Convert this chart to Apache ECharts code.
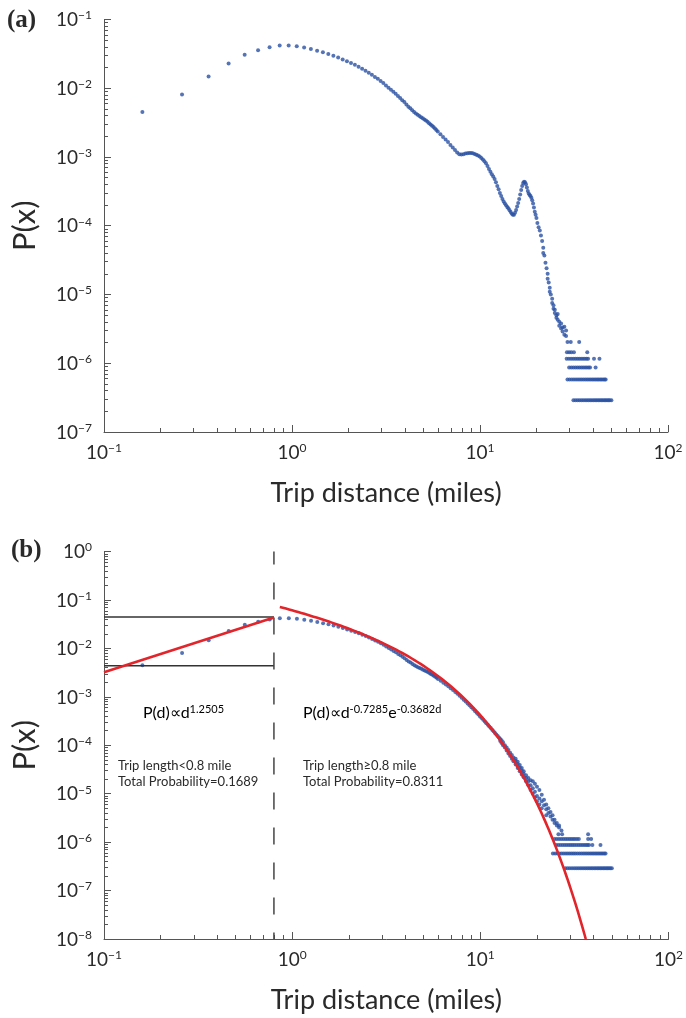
<!DOCTYPE html>
<html>
<head>
<meta charset="utf-8">
<script src="https://cdn.jsdelivr.net/npm/echarts@6/dist/echarts.min.js"></script>
<style>
  html, body { margin: 0; padding: 0; background: #ffffff; }
  #chart { width: 686px; height: 1018px; }
</style>
</head>
<body>
<div id="chart"></div>
<script>
// ---- Trip-distance distribution (0.1-mile bins) ----
// short trips, shared by both panels
const headDist = [0.16,0.26,0.36,0.46,0.56,0.66,0.76,0.86,0.96,1.06,1.16,1.26,1.36,1.46,1.56,1.66,1.76,1.86,1.96,2.06,2.16,2.26,2.36,2.46,2.56,2.66,2.76,2.86,2.96];
const headProb = [4.5e-3,8.1e-3,1.48e-2,2.29e-2,3.07e-2,3.58e-2,3.96e-2,4.19e-2,4.2e-2,4.09e-2,3.92e-2,3.72e-2,3.52e-2,3.33e-2,3.15e-2,2.98e-2,2.8e-2,2.63e-2,2.47e-2,2.33e-2,2.19e-2,2.05e-2,1.92e-2,1.8e-2,1.68e-2,1.57e-2,1.46e-2,1.37e-2,1.28e-2];
const midDist = [3.06,3.16,3.26,3.36,3.46,3.56,3.66,3.76,3.86,3.96,4.06,4.16,4.26,4.36,4.46,4.56,4.66,4.76,4.86,4.96,5.06,5.16,5.26,5.36,5.46,5.56,5.66,5.76,5.86,5.96,6.16,6.36,6.56,6.76,6.96,7.16,7.36,7.56];
const midProb = [1.19e-2,1.1e-2,1.02e-2,9.5e-3,8.9e-3,8.3e-3,7.7e-3,7.2e-3,6.7e-3,6.3e-3,5.8e-3,5.4e-3,5.1e-3,4.8e-3,4.5e-3,4.3e-3,4.1e-3,3.95e-3,3.8e-3,3.65e-3,3.52e-3,3.4e-3,3.25e-3,3.1e-3,2.97e-3,2.85e-3,2.72e-3,2.6e-3,2.47e-3,2.35e-3,2.15e-3,1.95e-3,1.8e-3,1.65e-3,1.5e-3,1.38e-3,1.26e-3,1.16e-3];

// panel (a): longer trips, with the shoulder near 9 miles and the peak near 17 miles
const bodyDistA = [7.76,7.96,8.16,8.36,8.56,8.76,8.96,9.16,9.36,9.56,9.76,9.96,10.16,10.36,10.56,10.76,10.96,11.16,11.36,11.56,11.76,11.96,12.16,12.36,12.56,12.76,12.96,13.16,13.36,13.56,13.76,13.96,14.16,14.36,14.56,14.76,14.96,15.16,15.36,15.56,15.76,15.96,16.16,16.36,16.56,16.76,16.96,17.16,17.36,17.56,17.76,17.96,18.16,18.36,18.56,18.76,18.96,19.16,19.36,19.56,19.76,19.96];
const bodyProbA = [1.1e-3,1.09e-3,1.1e-3,1.12e-3,1.13e-3,1.14e-3,1.14e-3,1.13e-3,1.11e-3,1.08e-3,1.05e-3,1.02e-3,9.7e-4,9.2e-4,8.7e-4,8.1e-4,7.4e-4,6.7e-4,6.1e-4,5.6e-4,5.2e-4,4.8e-4,4.3e-4,3.8e-4,3.4e-4,3.0e-4,2.7e-4,2.45e-4,2.25e-4,2.1e-4,1.98e-4,1.88e-4,1.8e-4,1.68e-4,1.58e-4,1.5e-4,1.45e-4,1.45e-4,1.55e-4,1.7e-4,1.9e-4,2.15e-4,2.45e-4,2.85e-4,3.3e-4,3.8e-4,4.2e-4,4.35e-4,4.3e-4,4.0e-4,3.6e-4,3.2e-4,2.95e-4,2.8e-4,2.7e-4,2.55e-4,2.35e-4,2.1e-4,1.85e-4,1.6e-4,1.45e-4,1.3e-4];
const spreadDistA = [20.2,20.5,20.8,21.1,21.4,21.7,21.7,22.0,22.3,22.6,22.9,22.9,23.2,23.5,23.5,23.8,24.2,24.2,24.6,24.6,25.0,25.0,25.5,25.5,25.9,25.9,26.4,26.4,27.0,27.0,27.5,27.5,28.1,28.1,28.7,28.7];
const spreadProbA = [1.1e-4,9.5e-5,8.5e-5,7.2e-5,6.0e-5,4.8e-5,4.0e-5,3.7e-5,2.9e-5,2.4e-5,2.0e-5,1.7e-5,1.5e-5,1.25e-5,1.1e-5,1.0e-5,8.7e-6,7.5e-6,7.0e-6,6.2e-6,6.0e-6,5.4e-6,5.0e-6,4.6e-6,5.2e-6,4.3e-6,4.0e-6,3.5e-6,3.8e-6,3.2e-6,3.3e-6,2.9e-6,3.4e-6,2.6e-6,3.0e-6,2.5e-6];

// probability levels of the sparse tail (1, 2, 3, 4, 5 and 7 trips per bin)
const levelProb = [2.9e-7, 5.8e-7, 8.7e-7, 1.16e-6, 1.45e-6, 2.03e-6];
const tailRowsA = [
  [31.4,32.2,33.0,33.8,34.6,35.4,36.2,37.0,37.8,38.6,39.4,40.2,41.0,41.8,42.6,43.4,44.2,45.0,45.8,46.6,47.4,48.2,49.0,50.0],
  [29.2,30.0,30.8,31.6,32.4,33.2,34.0,34.8,35.6,36.4,37.2,38.0,38.8,39.6,40.4,41.2,42.0,42.8,43.6,44.4,45.2,46.0,46.6],
  [29.8,30.6,31.4,32.2,33.0,33.8,34.6,35.4,36.2,37.0,37.8,38.5,41.2],
  [28.9,29.7,30.5,31.3,32.1,32.9,33.7,34.5,35.3,36.1,36.9,37.6,40.4,43.2],
  [29.0,29.8,30.6,31.6,37.2],
  [29.2,30.4,33.7]
];

// panel (b): smoothed long-trip data
const bodyDistB = [7.76,7.96,8.16,8.36,8.56,8.76,8.96,9.16,9.36,9.56,9.76,9.96,10.16,10.36,10.56,10.76,10.96,11.16,11.36,11.56,11.76,11.96,12.16,12.36,12.56];
const bodyProbB = [1.05e-3,9.6e-4,8.7e-4,8.0e-4,7.3e-4,6.7e-4,6.1e-4,5.6e-4,5.1e-4,4.7e-4,4.3e-4,3.95e-4,3.65e-4,3.35e-4,3.1e-4,2.85e-4,2.65e-4,2.45e-4,2.27e-4,2.1e-4,1.95e-4,1.8e-4,1.67e-4,1.55e-4,1.45e-4];
const bandDistB = [12.76,12.76,12.96,12.96,13.2,13.2,13.5,13.5,13.8,13.8,14.1,14.1,14.4,14.4,14.7,14.7,15.0,15.0,15.4,15.4,15.4,15.8,15.8,15.8,16.2,16.2,16.2,16.6,16.6,16.6,17.0,17.0,17.0,17.5,17.5,17.5,18.0,18.0,18.0,18.5,18.5,18.5,19.0,19.0,19.0,19.5,19.5,19.5,20.0,20.0,20.0,20.6,20.6,20.6,21.2,21.2,21.2,21.8,21.8,22.4,22.4,22.4,23.0,23.0,23.6,23.6,24.2,24.2,24.8,24.8,25.5,25.5,26.2,26.2,27.0];
const bandProbB = [1.35e-4,1.22e-4,1.27e-4,1.12e-4,1.15e-4,1.0e-4,1.0e-4,9.0e-5,9.0e-5,7.8e-5,8.0e-5,6.8e-5,7.0e-5,6.0e-5,6.3e-5,5.3e-5,5.6e-5,4.7e-5,4.8e-5,4.0e-5,5.3e-5,4.1e-5,3.4e-5,4.6e-5,3.5e-5,2.9e-5,3.9e-5,3.0e-5,2.5e-5,3.4e-5,2.6e-5,2.2e-5,2.9e-5,2.1e-5,1.8e-5,2.4e-5,1.8e-5,1.5e-5,2.1e-5,1.5e-5,1.2e-5,1.9e-5,1.3e-5,1.0e-5,1.8e-5,1.1e-5,8.5e-6,1.6e-5,9.0e-6,7.0e-6,1.4e-5,8.0e-6,6.0e-6,1.2e-5,7.0e-6,5.0e-6,9.5e-6,5.8e-6,7.5e-6,4.8e-6,3.6e-6,6.0e-6,4.0e-6,5.0e-6,3.4e-6,4.2e-6,2.9e-6,3.6e-6,2.5e-6,2.9e-6,2.2e-6,2.5e-6,2.0e-6,2.2e-6,1.75e-6];
const tailRowsB = [
  [28.3,29.1,29.9,30.7,31.5,32.3,33.1,33.9,34.7,35.5,36.3,37.1,37.9,38.7,39.5,40.3,41.1,41.9,42.7,43.5,44.3,45.1,45.9,46.7,47.5,48.3,49.1,50.0],
  [24.3,25.0,25.7,26.4,27.1,27.8,28.5,29.2,29.9,30.6,31.3,32.0,32.8,33.6,34.4,35.2,36.0,36.8,37.6,38.4,39.2,40.0,40.8,41.6,42.4,43.2,44.0,44.8,45.6,46.3],
  [25.3,26.0,26.7,27.4,28.1,28.8,29.5,30.2,30.9,31.6,32.4,33.2,34.0,34.8,35.6,36.4,37.1,37.8,39.4,43.5],
  [24.8,25.5,26.2,26.9,27.6,28.3,29.0,29.7,30.4,31.1,31.8,32.6,33.4,37.4,38.8],
  [26.0,27.2,37.4],
  []
];

// ---- fitted models ----
const splitDist = 0.8;            // boundary between the two regimes (miles)
const shortExp = 1.2505;          // P(d) ∝ d^1.2505 for d < 0.8
const shortScale = 0.0575;
const longExp = -0.7285;          // P(d) ∝ d^-0.7285 e^-0.3682d for d ≥ 0.8
const longRate = 0.3682;
const longScale = 0.0885;
const longStart = 0.86;
const boxTop = 0.0446;            // range of short-trip probabilities
const boxBottom = 0.0044;
const pMinB = 1e-8;

// ---- styling ----
const FONT = 'Lato, "Open Sans", sans-serif';
const INK = '#2a2a2a';
const AXIS = '#555555';
const BLUE = '#2b51a3';
const RED = '#e2252b';

const tickRich = {
  b: { fontFamily: FONT, fontSize: 19, lineHeight: 20, verticalAlign: 'bottom', color: INK },
  s: { fontFamily: FONT, fontSize: 12, lineHeight: 12, padding: [0, 0, 12, 0], verticalAlign: 'top', color: INK }
};
function powerLabel(v) {
  const e = Math.round(Math.log10(v));
  return '{b|10}{s|' + (e < 0 ? '\u2212' + (-e) : String(e)) + '}';
}
function minorLogs(lo, hi) {
  const out = [];
  for (let e = lo; e < hi; e++) for (let k = 2; k <= 9; k++) out.push(e + Math.log10(k));
  return out;
}

const pairs = (xs, ys) => xs.map((x, i) => [x, ys[i]]);
const rows = (rs) => rs.flatMap((xs, k) => xs.map(x => [x, levelProb[k]]));

const dataA = [].concat(pairs(headDist, headProb), pairs(midDist, midProb), pairs(bodyDistA, bodyProbA),
                        pairs(spreadDistA, spreadProbA), rows(tailRowsA));
const dataB = [].concat(pairs(headDist, headProb), pairs(midDist, midProb), pairs(bodyDistB, bodyProbB),
                        pairs(bandDistB, bandProbB), rows(tailRowsB));

// fitted curves
const longModel = d => longScale * Math.pow(d, longExp) * Math.exp(-longRate * d);
const shortFit = [0.1, splitDist].map(d => [d, shortScale * Math.pow(d, shortExp)]);
// distance where the long-trip model reaches the bottom of the axis
let lo = 10, hi = 80;
for (let i = 0; i < 60; i++) { const mid = (lo + hi) / 2; if (longModel(mid) > pMinB) lo = mid; else hi = mid; }
const longEnd = lo;
const longFit = [];
for (let i = 0; i <= 200; i++) {
  const d = longStart * Math.pow(longEnd / longStart, i / 200);
  longFit.push([d, longModel(d)]);
}

function mainX(grid) {
  return {
    type: 'log', logBase: 10, gridIndex: grid, min: 0.1, max: 100, position: 'bottom',
    axisLine: { show: true, onZero: false, lineStyle: { color: AXIS, width: 1 } },
    axisTick: { show: true, inside: true, length: 7, lineStyle: { color: AXIS, width: 1 } },
    axisLabel: { formatter: powerLabel, rich: tickRich, margin: 10 },
    splitLine: { show: false },
    name: 'Trip distance (miles)', nameLocation: 'middle', nameGap: 46,
    nameTextStyle: { fontFamily: FONT, fontSize: 27, color: INK, lineHeight: 30 }
  };
}
function mainY(grid, min, max) {
  return {
    type: 'log', logBase: 10, gridIndex: grid, min: min, max: max, position: 'left',
    axisLine: { show: true, onZero: false, lineStyle: { color: AXIS, width: 1 } },
    axisTick: { show: true, inside: true, length: 7, lineStyle: { color: AXIS, width: 1 } },
    axisLabel: { formatter: powerLabel, rich: tickRich, margin: 12 },
    splitLine: { show: false },
    name: 'P(x)', nameLocation: 'middle', nameGap: 62,
    nameTextStyle: { fontFamily: FONT, fontSize: 31, color: INK, lineHeight: 34 }
  };
}
// overlay axes in decade units carrying the 2..9 minor ticks
function minorAxis(grid, from, to, pos) {
  return {
    type: 'value', gridIndex: grid, min: from, max: to, position: pos,
    axisLine: { show: false, onZero: false }, axisLabel: { show: false }, splitLine: { show: false },
    axisPointer: { show: false },
    axisTick: { show: true, inside: true, length: 4, lineStyle: { color: AXIS, width: 1 }, customValues: minorLogs(from, to) }
  };
}

const annRich = {
  m: { fontFamily: FONT, fontSize: 16, lineHeight: 17, verticalAlign: 'bottom', color: INK },
  s: { fontFamily: FONT, fontSize: 11, lineHeight: 11, padding: [0, 0, 9, 0], verticalAlign: 'top', color: INK }
};
const noteStyle = { font: '13px ' + FONT, fill: INK, lineHeight: 16, verticalAlign: 'top' };

const chart = echarts.init(document.getElementById('chart'), null, { renderer: 'canvas' });
chart.setOption({
  animation: false,
  backgroundColor: '#ffffff',
  grid: [
    { left: 100.7, top: 19.5, width: 567.3, height: 412.5 },
    { left: 101, top: 551.6, width: 574, height: 387.4 }
  ],
  xAxis: [mainX(0), mainX(1), minorAxis(0, -1, 2, 'bottom'), minorAxis(1, -1, 2, 'bottom')],
  yAxis: [mainY(0, 1e-7, 0.1), mainY(1, pMinB, 1), minorAxis(0, -7, -1, 'left'), minorAxis(1, -8, 0, 'left')],
  series: [
    { type: 'scatter', xAxisIndex: 0, yAxisIndex: 0, data: dataA, symbolSize: 4,
      itemStyle: { color: BLUE }, silent: true },
    { type: 'scatter', xAxisIndex: 1, yAxisIndex: 1, data: dataB, symbolSize: 4,
      itemStyle: { color: BLUE }, silent: true },
    { type: 'line', xAxisIndex: 1, yAxisIndex: 1, data: [[0.1, boxTop], [splitDist, boxTop]], symbol: 'none',
      lineStyle: { color: '#333333', width: 1.6 }, silent: true },
    { type: 'line', xAxisIndex: 1, yAxisIndex: 1, data: [[0.1, boxBottom], [splitDist, boxBottom]], symbol: 'none',
      lineStyle: { color: '#333333', width: 1.6 }, silent: true },
    { type: 'line', xAxisIndex: 1, yAxisIndex: 1, data: [[splitDist, 1], [splitDist, pMinB]], symbol: 'none',
      lineStyle: { color: '#444444', width: 1.5, type: [17, 18], dashOffset: 4 }, silent: true },
    { type: 'line', xAxisIndex: 1, yAxisIndex: 1, data: shortFit, symbol: 'none',
      lineStyle: { color: RED, width: 2.6 }, silent: true },
    { type: 'line', xAxisIndex: 1, yAxisIndex: 1, data: longFit, symbol: 'none',
      lineStyle: { color: RED, width: 2.6 }, silent: true }
  ],
  graphic: [
    { type: 'text', x: 7, y: 21, style: { text: '(a)', font: 'bold 25px "Liberation Serif", serif', fill: INK, verticalAlign: 'middle' } },
    { type: 'text', x: 11, y: 551, style: { text: '(b)', font: 'bold 25px "Liberation Serif", serif', fill: INK, verticalAlign: 'middle' } },
    { type: 'text', x: 143, y: 712, style: { text: '{m|P(d)\u221Dd}{s|1.2505}', rich: annRich, verticalAlign: 'middle' } },
    { type: 'text', x: 303, y: 712, style: { text: '{m|P(d)\u221Dd}{s|-0.7285}{m|e}{s|-0.3682d}', rich: annRich, verticalAlign: 'middle' } },
    { type: 'text', x: 118, y: 758, style: Object.assign({ text: 'Trip length<0.8 mile\nTotal Probability=0.1689' }, noteStyle) },
    { type: 'text', x: 303, y: 758, style: Object.assign({ text: 'Trip length\u22650.8 mile\nTotal Probability=0.8311' }, noteStyle) }
  ]
});
</script>
</body>
</html>
